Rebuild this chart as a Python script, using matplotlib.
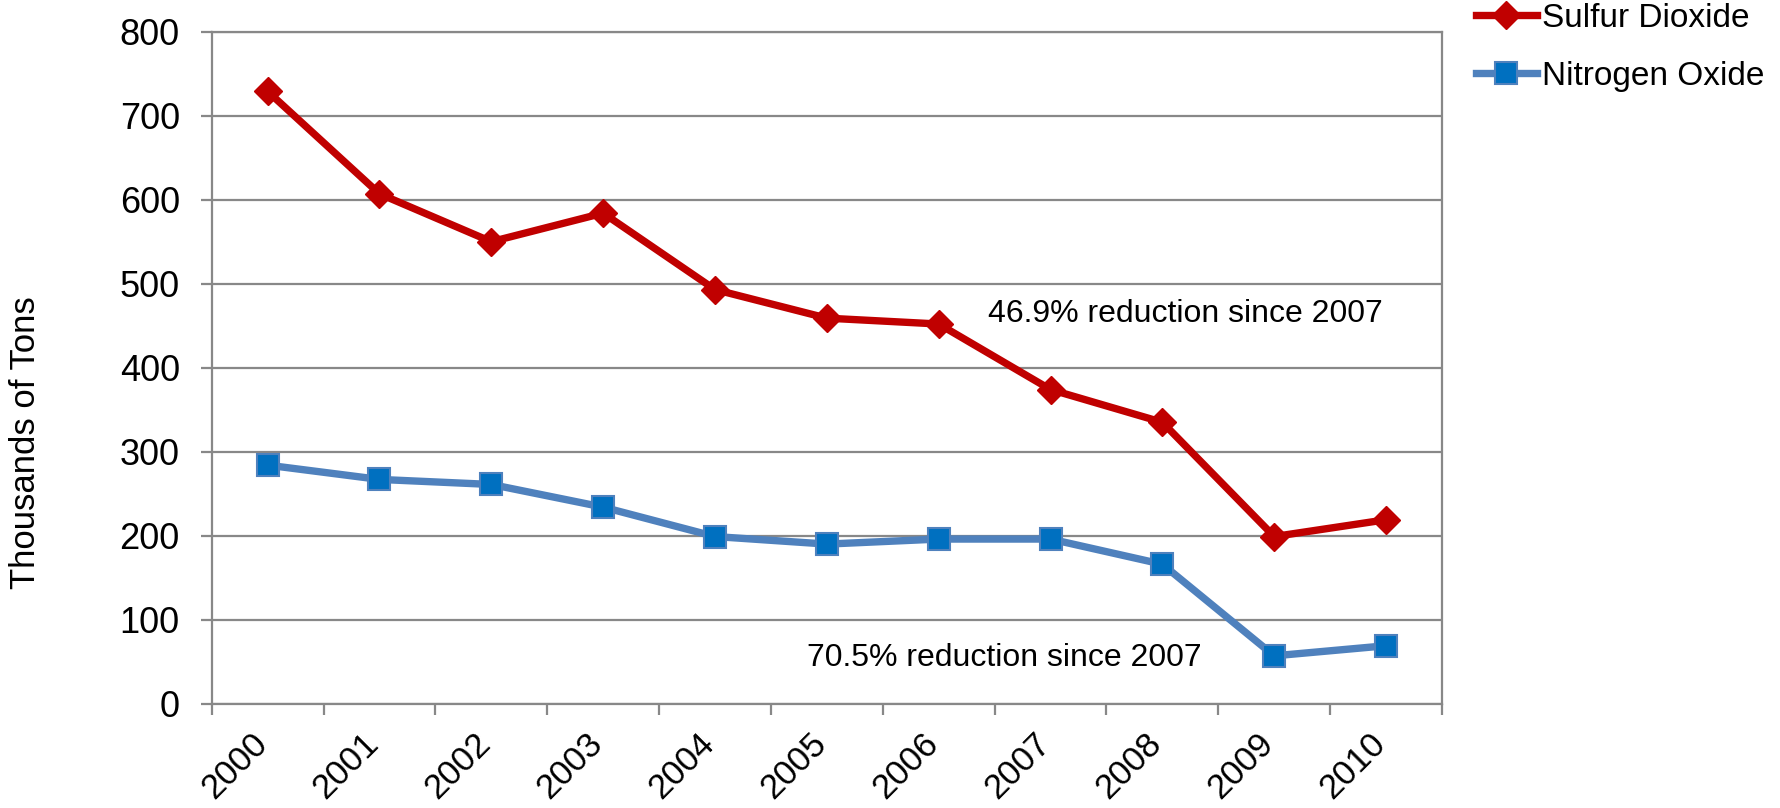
import matplotlib
matplotlib.use("Agg")
import matplotlib.pyplot as plt
import matplotlib.transforms as mtransforms
import numpy as np

plt.rcParams['font.family'] = ['Liberation Sans', 'DejaVu Sans']

years = ['2000', '2001', '2002', '2003', '2004', '2005', '2006', '2007', '2008', '2009', '2010']
sulfur_dioxide = [729, 607, 550, 584, 493, 459, 452, 374, 335, 199, 219]
nitrogen_oxide = [284, 267, 261, 234, 199, 190, 196, 196, 166, 57, 69]
y_ticks = [0, 100, 200, 300, 400, 500, 600, 700, 800]
annotations = ['46.9% reduction since 2007', '70.5% reduction since 2007']

W, H = 1781, 808
fig = plt.figure(figsize=(W / 100, H / 100), dpi=100)
ax = fig.add_axes([211.7 / W, 1 - 703.7 / H, (1442 - 211.7) / W, (703.7 - 31.7) / H])

grid_c = '#888888'
x = np.arange(len(years))

ax.plot(x, sulfur_dioxide, color='#C00000', lw=5.3, marker='D', ms=14,
        mfc='#C00000', mec='#C00000', mew=1, label='Sulfur Dioxide', zorder=3, clip_on=False)
ax.plot(x, nitrogen_oxide, color='#4F81BD', lw=5.3, marker='s', ms=16,
        mfc='#0070C0', mec='#4F81BD', mew=1.5, label='Nitrogen Oxide', zorder=3, clip_on=False)

ax.set_xlim(-0.5, len(years) - 0.5)
ax.set_ylim(0, 800)
ax.set_yticks(y_ticks)
ax.set_yticklabels([str(v) for v in y_ticks], fontsize=26)
ax.yaxis.grid(True, color=grid_c, lw=1.6)
ax.set_axisbelow(True)

ax.set_xticks(x)
ax.set_xticklabels(years, fontsize=25, rotation=45, ha='right', va='top')
ax.set_xticks(np.arange(-0.5, len(years), 1.0), minor=True)
ax.tick_params(axis='x', which='major', length=0, pad=16.5)
ax.tick_params(axis='x', which='minor', length=8, width=1.6, color=grid_c, direction='out')
ax.tick_params(axis='y', length=8, width=1.6, color=grid_c, pad=15, direction='out')
offset = mtransforms.ScaledTranslation(6 / 100, 0, fig.dpi_scale_trans)
for lbl in ax.get_xticklabels():
    lbl.set_transform(lbl.get_transform() + offset)

for s in ax.spines.values():
    s.set_color(grid_c)
    s.set_linewidth(1.6)

ax.text(6.44, 464, annotations[0], fontsize=23, va='center', ha='left')
ax.text(4.82, 54, annotations[1], fontsize=23, va='center', ha='left')

fig.text(26 / W, 1 - 443 / H, 'Thousands of Tons', rotation=90, fontsize=25,
         ha='center', va='center')

fig.legend(loc='upper left', bbox_to_anchor=(1476 / W, 1 - 3 / H), frameon=False,
           fontsize=24, numpoints=1, handlelength=1.83, handletextpad=0.15,
           borderpad=0, borderaxespad=0, labelspacing=0.8)

fig.savefig('out.png', dpi=100)
